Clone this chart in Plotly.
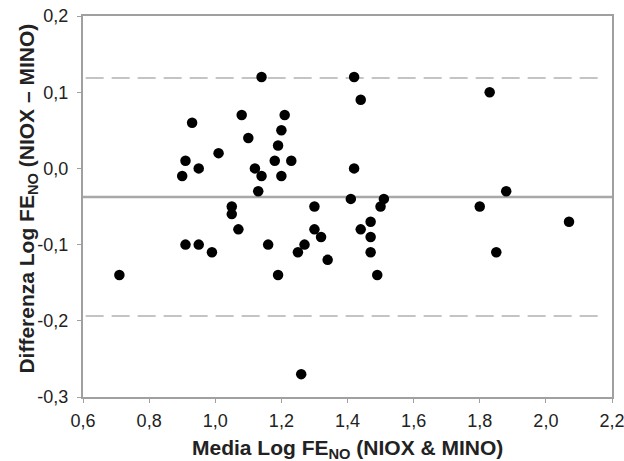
import plotly.graph_objects as go

# Bland-Altman data: mean of log FENO (x) and difference (y)
media_log = [1.14, 1.42, 1.44, 0.93, 1.08, 1.21, 1.10, 1.20, 1.19, 1.01,
             0.91, 0.90, 0.95, 1.12, 1.14, 1.18, 1.23, 1.20, 1.13, 1.42,
             1.05, 1.30, 1.41, 1.05, 1.07, 1.44, 0.91, 0.95, 0.99, 1.16,
             1.19, 1.25, 1.27, 1.30, 1.32, 1.34, 0.71, 1.26, 1.51, 1.50,
             1.47, 1.47, 1.47, 1.49, 1.80, 1.88, 2.07, 1.85, 1.83]
diff_log = [0.12, 0.12, 0.09, 0.06, 0.07, 0.07, 0.04, 0.05, 0.03, 0.02,
            0.01, -0.01, 0.00, 0.00, -0.01, 0.01, 0.01, -0.01, -0.03, 0.00,
            -0.05, -0.05, -0.04, -0.06, -0.08, -0.08, -0.10, -0.10, -0.11, -0.10,
            -0.14, -0.11, -0.10, -0.08, -0.09, -0.12, -0.14, -0.27, -0.04, -0.05,
            -0.07, -0.09, -0.11, -0.14, -0.05, -0.03, -0.07, -0.11, 0.10]

mean_diff = -0.0375
upper_loa = 0.1187
lower_loa = -0.1937

x_tickvals = [0.6, 0.8, 1.0, 1.2, 1.4, 1.6, 1.8, 2.0, 2.2]
x_ticktext = ["0,6", "0,8", "1,0", "1,2", "1,4", "1,6", "1,8", "2,0", "2,2"]
y_tickvals = [0.2, 0.1, 0.0, -0.1, -0.2, -0.3]
y_ticktext = ["0,2", "0,1", "0,0", "-0,1", "-0,2", "-0,3"]

x_title = "Media Log FE<sub>NO</sub> (NIOX &amp; MINO)"
y_title = "Differenza Log FE<sub>NO</sub> (NIOX – MINO)"

font_family = "Liberation Sans, Arial, sans-serif"
text_color = "#222222"

fig = go.Figure()
fig.add_trace(go.Scatter(
    x=media_log, y=diff_log, mode="markers",
    marker=dict(color="black", size=10.5),
    showlegend=False, hoverinfo="x+y",
))

fig.add_shape(type="line", xref="paper", yref="y", x0=0, x1=1,
              y0=mean_diff, y1=mean_diff,
              line=dict(color="#a8a8a8", width=2.5), layer="below")
for yv in (upper_loa, lower_loa):
    fig.add_shape(type="line", xref="paper", yref="y", x0=0.005, x1=0.985,
                  y0=yv, y1=yv,
                  line=dict(color="#c4c4c4", width=2, dash="18px,8px"), layer="below")

axis_common = dict(showgrid=False, zeroline=False, showline=True, mirror=True,
                   linecolor="#a0a0a0", linewidth=2, ticks="outside", ticklen=4,
                   tickcolor="#a0a0a0", automargin=False,
                   ticklabeloverflow="allow",
                   tickfont=dict(family=font_family, size=18, color=text_color))

fig.update_layout(
    width=624, height=461,
    margin=dict(l=83, r=12, t=16, b=64, autoexpand=False),
    paper_bgcolor="white", plot_bgcolor="white",
    font=dict(family=font_family, size=18, color=text_color),
    xaxis=dict(range=[0.6, 2.2], tickvals=x_tickvals, ticktext=x_ticktext,
               ticklabelstandoff=2, **axis_common),
    yaxis=dict(range=[-0.3, 0.2], tickvals=y_tickvals, ticktext=y_ticktext,
               ticklabelstandoff=5, **axis_common),
    annotations=[
        dict(text="<b>" + x_title + "</b>", xref="paper", yref="paper",
             x=0.5, y=-0.136, xanchor="center", yanchor="middle", showarrow=False,
             font=dict(family=font_family, size=21, color=text_color)),
        dict(text="<b>" + y_title + "</b>", xref="paper", yref="paper",
             x=-0.1045, y=0.52, xanchor="center", yanchor="middle", showarrow=False,
             textangle=-90, font=dict(family=font_family, size=21, color=text_color)),
    ],
)

fig.write_html(
    "out.html",
    config={"displayModeBar": False},
    post_script="document.body.style.margin='0';document.body.style.overflow='hidden';",
)
